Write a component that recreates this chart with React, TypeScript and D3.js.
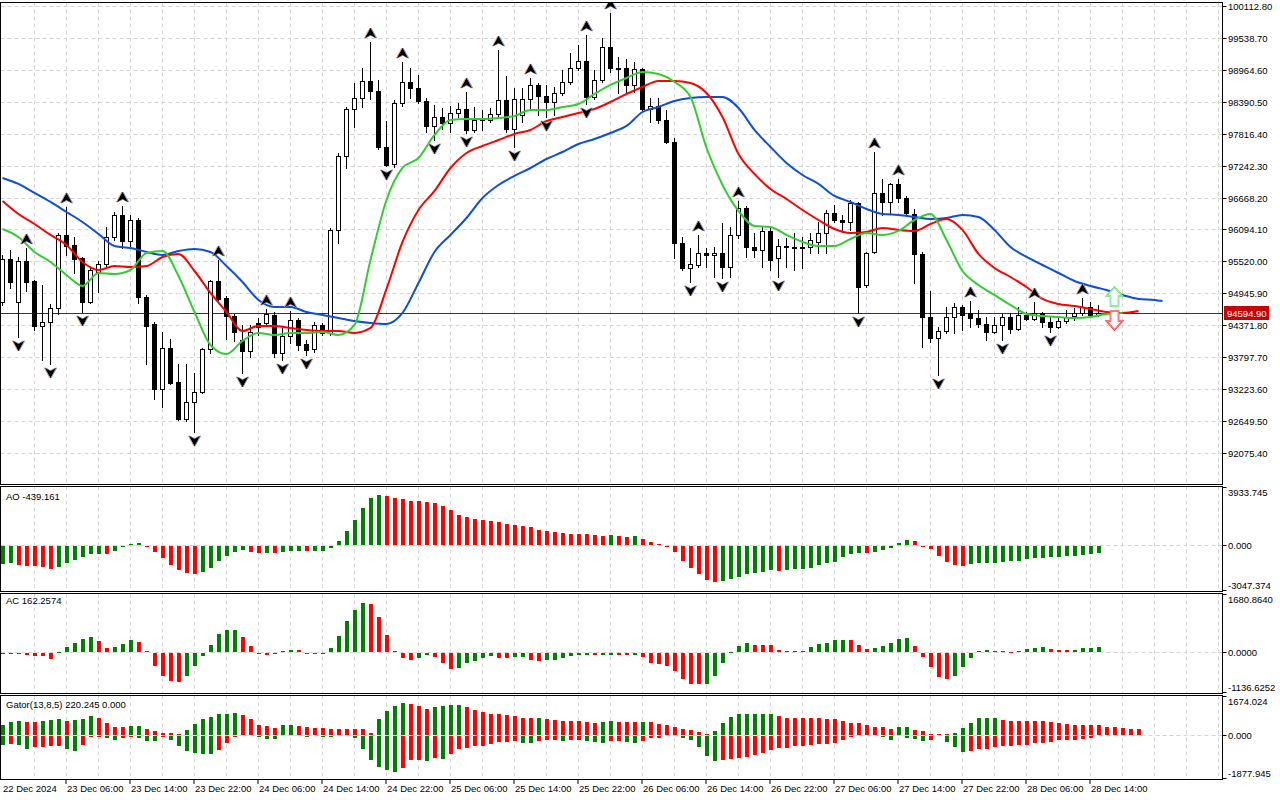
import React, { useEffect, useRef } from 'react';
import * as d3 from 'd3';

// Hourly bars, 22 Dec 22:00 .. 28 Dec 15:00 (bar index 0..137)
const opens = [
  94791, 95564, 94791, 95528, 95169, 94359, 94431, 94683, 95996, 95816,
  95582, 94791, 95330, 95474, 95960, 96355, 95888, 96265, 94881, 94395,
  93227, 93964, 93353, 92687, 92993, 93173, 93946, 95169, 94863, 94539,
  94108, 93910, 94413, 94413, 94557, 93874, 94180, 94467, 94036, 93946,
  94377, 94234, 96086, 97416, 98261, 98459, 98765, 98585, 97578, 97272,
  98369, 98747, 98639, 98405, 97956, 98117, 98009, 98189, 98261, 97884,
  98063, 98063, 98171, 98423, 97902, 98153, 98441, 98693, 98495, 98387,
  98549, 98747, 98998, 99124, 98477, 98782, 99376, 98998, 98998, 98693,
  98980, 98261, 98315, 98063, 97668, 95852, 95402, 95456, 95672, 95636,
  95672, 95420, 95996, 96481, 95780, 95726, 96068, 95582, 95798, 95780,
  95762, 95780, 95870, 96032, 96391, 96265, 96229, 96571, 95097, 95690,
  96751, 96589, 96913, 96661, 96373, 95654, 94521, 94144, 94270, 94521,
  94701, 94593, 94503, 94395, 94252, 94377, 94521, 94306, 94557, 94485,
  94593, 94431, 94341, 94449, 94539, 94593, 94701, 94557,
];
const highs = [
  95636, 95726, 95600, 95762, 95187, 95097, 94755, 96032, 96499, 95960,
  95600, 95402, 95528, 96140, 96409, 96517, 96355, 96301, 94917, 94431,
  94252, 94126, 93676, 93676, 93514, 93964, 95187, 95546, 94899, 94575,
  94377, 94377, 94503, 94665, 94611, 94324, 94629, 94503, 94108, 94431,
  94413, 96122, 97470, 98297, 98729, 98998, 99466, 98783, 98045, 98423,
  99106, 98998, 98872, 98459, 98333, 98279, 98315, 98369, 98567, 98297,
  98243, 98279, 99322, 98854, 98639, 98639, 98819, 98729, 98693, 98657,
  98962, 99268, 99412, 99592, 98962, 99538, 99987, 99196, 99160, 99106,
  98998, 98459, 98459, 98243, 97740, 95960, 95762, 95996, 95762, 95780,
  96211, 96140, 96607, 96517, 96032, 96140, 96140, 95924, 95942, 96032,
  95960, 96032, 96229, 96445, 96535, 96355, 96625, 96589, 95690, 97488,
  97003, 96931, 97003, 96697, 96463, 95690, 94989, 94341, 94701, 94773,
  94737, 94809, 94647, 94521, 94521, 94575, 94593, 94701, 94611, 94791,
  94611, 94521, 94521, 94647, 94683, 94863, 94791, 94737,
];
const lows = [
  94737, 95043, 94162, 94989, 94288, 93748, 93676, 94575, 95636, 95312,
  94611, 94773, 94971, 95420, 95906, 95762, 95762, 94773, 93676, 93047,
  92903, 93317, 92669, 92651, 92454, 93155, 93874, 94827, 94126, 94090,
  93514, 93802, 94198, 94359, 93802, 93748, 94054, 93928, 93838, 93892,
  94198, 94198, 95852, 97200, 97937, 98297, 98441, 97542, 97236, 97218,
  98315, 98459, 98369, 97848, 97704, 97902, 97848, 98117, 97830, 97848,
  97884, 98027, 98117, 97848, 97578, 98027, 98279, 98153, 98117, 98153,
  98513, 98711, 98962, 98351, 98441, 98747, 98926, 98549, 98549, 98567,
  98243, 98027, 98009, 97650, 95582, 95366, 95151, 95420, 95420, 95240,
  95222, 95240, 95942, 95600, 95600, 95420, 95366, 95240, 95420, 95366,
  95402, 95672, 95672, 95672, 96229, 96050, 96086, 94593, 95061, 95672,
  96355, 96391, 96589, 96355, 95133, 93982, 94072, 93478, 94234, 94234,
  94288, 94341, 94341, 94108, 94234, 94108, 94234, 94288, 94467, 94467,
  94341, 94252, 94324, 94413, 94467, 94557, 94521, 94539,
];
const closes = [
  95564, 95151, 95528, 95151, 94359, 94431, 94683, 95996, 95798, 95564,
  94791, 95366, 95474, 95960, 96355, 95888, 96265, 94881, 94359, 93227,
  93964, 93335, 92687, 92993, 93173, 93946, 95169, 94845, 94539, 94252,
  93910, 94252, 94341, 94575, 93874, 94180, 94467, 94018, 93928, 94377,
  94234, 96086, 97416, 98261, 98459, 98765, 98585, 97578, 97254, 98369,
  98747, 98639, 98405, 97956, 98117, 98009, 98189, 98261, 97884, 98063,
  98099, 98171, 98423, 97902, 98441, 98441, 98693, 98495, 98387, 98549,
  98747, 98998, 99124, 98477, 98782, 99376, 98998, 98980, 98693, 98980,
  98261, 98315, 98063, 97668, 95852, 95402, 95474, 95672, 95636, 95672,
  95420, 95996, 96481, 95780, 95726, 96068, 95546, 95798, 95780, 95762,
  95780, 95906, 96032, 96391, 96265, 96229, 96571, 95061, 95672, 96751,
  96589, 96913, 96661, 96391, 95654, 94521, 94144, 94270, 94521, 94701,
  94557, 94503, 94395, 94252, 94377, 94521, 94306, 94557, 94485, 94593,
  94431, 94341, 94449, 94521, 94593, 94701, 94557, 94594.9,
];

// Alligator, read every second bar; jaw runs to bar 145, teeth to 142, lips to 140
const jawValues = [
  97021, 96913, 96751, 96589, 96409, 96229, 96014, 95798, 95762, 95690,
  95636, 95708, 95744, 95690, 95438, 95151, 94827, 94701, 94701, 94611,
  94557, 94503, 94449, 94413, 94395, 94593, 95133, 95690, 95996, 96301,
  96661, 96895, 97057, 97200, 97362, 97488, 97632, 97722, 97830, 97956,
  98207, 98297, 98405, 98459, 98477, 98477, 98279, 97884, 97578, 97290,
  97074, 96913, 96697, 96589, 96463, 96373, 96355, 96319, 96283, 96301,
  96355, 96319, 96086, 95780, 95600, 95456, 95312, 95169, 95079, 95007,
  94917, 94845, 94827, 94809,
];
const teethValues = [
  96607, 96373, 96193, 95996, 95816, 95510, 95366, 95438, 95420, 95438,
  95600, 95654, 95348, 94953, 94611, 94270, 94359, 94359, 94324, 94288,
  94270, 94270, 94234, 94324, 95025, 95870, 96445, 96787, 97200, 97470,
  97596, 97703, 97812, 97884, 98045, 98117, 98189, 98261, 98387, 98531,
  98657, 98765, 98765, 98729, 98549, 98117, 97452, 97093, 96823, 96643,
  96445, 96265, 96104, 96032, 96050, 96122, 96086, 96068, 96193, 96283,
  96086, 95654, 95402, 95240, 95061, 94845, 94755, 94719, 94665, 94611,
  94593, 94629,
];
const lipsValues = [
  96104, 95960, 95690, 95510, 95276, 95079, 95312, 95294, 95366, 95672,
  95708, 95258, 94611, 94018, 93856, 94090, 94234, 94198, 94234, 94234,
  94252, 94198, 94377, 95546, 96625, 97200, 97380, 97794, 98063, 98081,
  98081, 98099, 98135, 98243, 98243, 98297, 98351, 98531, 98693, 98819,
  98926, 98890, 98747, 98477, 97560, 96895, 96427, 96158, 96140, 95996,
  95870, 95798, 95798, 95924, 96032, 95996, 96068, 96265, 96373, 95906,
  95348, 95097, 94917, 94737, 94575, 94539, 94521, 94503, 94521, 94575,
  94593,
];

const fractalUp = [3, 8, 15, 27, 33, 36, 46, 50, 58, 62, 66, 73, 76, 87, 92, 109, 112, 121, 129, 135];
const fractalDown = [2, 6, 10, 24, 30, 35, 38, 48, 54, 58, 64, 68, 73, 86, 90, 97, 107, 117, 125, 131];

const aoValues = [
  -1228, -1182, -1273, -1342, -1342, -1410, -1524, -1387, -1182, -978,
  -773, -530, -520, -528, -364, -91, 68, 136, -23, -432,
  -841, -1273, -1592, -1819, -1887, -1728, -1455, -1023, -705, -432,
  -273, -387, -500, -490, -500, -432, -350, -335, -350, -340,
  -330, -159, 296, 978, 1728, 2479, 3161, 3366, 3297, 3161,
  3093, 2980, 2960, 2940, 2820, 2615, 2342, 2069, 1933, 1796,
  1728, 1600, 1580, 1455, 1387, 1319, 1251, 1046, 978, 900,
  800, 780, 770, 750, 705, 637, 650, 591, 569, 580,
  432, 205, 68, -23, -432, -1000, -1455, -1865, -2297, -2433,
  -2365, -2206, -2092, -1910, -1842, -1728, -1614, -1683, -1614, -1569,
  -1524, -1455, -1296, -1160, -1114, -728, -569, -480, -500, -432,
  -250, -114, 136, 341, 273, -23, -205, -705, -1069, -1296,
  -1342, -1228, -1150, -1140, -1130, -1110, -1046, -1000, -887, -841,
  -796, -750, -710, -700, -659, -614, -523, -439.161,
];
const acValues = [
  -10, -20, -25, -40, -65, -70, -150, 5, 168, 280,
  392, 448, 318, 140, 168, 252, 364, 308, 28, -364,
  -643, -783, -812, -643, -364, -65, 224, 532, 644, 650,
  448, 196, -5, -37, -28, 28, 75, 70, -10, -20,
  -5, 130, 476, 896, 1223, 1428, 1390, 1008, 507, 56,
  -130, -197, -130, -56, -103, -270, -456, -410, -270, -205,
  -130, -84, -120, -140, -110, -90, -200, -210, -190, -178,
  -130, -84, -56, -37, -56, -47, -37, -47, -56, -37,
  -103, -270, -300, -365, -507, -723, -864, -883, -864, -650,
  -270, 10, 197, 282, 226, 220, 215, 84, 28, 37,
  56, 150, 244, 272, 366, 370, 360, 226, 112, 115,
  197, 263, 394, 422, 197, -103, -394, -676, -723, -648,
  -394, -130, 56, 84, 56, 28, 20, 56, 112, 140,
  145, 103, 65, 60, 75, 130, 140, 162.2574,
];
const gatorUpper = [
  397, 539, 596, 539, 539, 596, 639, 667, 596, 639,
  667, 809, 738, 511, 341, 341, 383, 383, 255, 170,
  71, 57, 28, 213, 468, 681, 780, 894, 894, 951,
  851, 667, 426, 355, 284, 426, 426, 355, 326, 284,
  284, 255, 255, 255, 241, 241, 71, 667, 1022, 1249,
  1391, 1348, 1249, 1107, 1206, 1249, 1277, 1277, 1192, 1064,
  965, 894, 880, 851, 809, 709, 709, 738, 667, 639,
  596, 596, 596, 539, 497, 539, 596, 539, 539, 539,
  568, 539, 454, 426, 326, 255, 213, 114, 28, 170,
  525, 752, 894, 894, 894, 894, 894, 823, 709, 709,
  709, 709, 709, 667, 667, 610, 525, 525, 426, 312,
  312, 255, 326, 326, 213, 170, 43, 43, 43, 71,
  284, 497, 709, 709, 709, 639, 610, 610, 610, 610,
  596, 568, 525, 454, 426, 426, 397, 397, 326, 326,
  284, 255, 255,
];
const gatorLower = [
  -426, -383, -426, -568, -497, -497, -454, -454, -596, -667,
  -397, -43, -43, -114, -170, -114, -43, -99, -213, -213,
  -71, -170, -454, -667, -738, -780, -795, -639, -326, -43,
  -28, -28, -71, -142, -142, -28, -28, -28, -71, -28,
  -71, -71, 0, -28, -114, -596, -1064, -1348, -1490, -1561,
  -1391, -1064, -1064, -1107, -965, -1022, -780, -568, -525, -454,
  -454, -383, -284, -284, -241, -326, -326, -213, -170, -170,
  -213, -185, -170, -241, -284, -326, -213, -213, -284, -326,
  -241, -99, -99, -28, 0, -114, -170, -497, -880, -1107,
  -1064, -1022, -965, -922, -823, -738, -639, -539, -539, -468,
  -440, -426, -383, -355, -312, -185, -71, -28, -28, -28,
  -71, -170, -28, -99, -142, -213, -170, 0, -284, -497,
  -709, -667, -596, -568, -497, -468, -454, -426, -397, -326,
  -326, -255, -185, -170, -170, -142, -99, -28, -28, 0,
  0,
];

const priceTicks = [
  100112.8, 99538.7, 98964.6, 98390.5, 97816.4, 97242.3, 96668.2, 96094.1,
  95520.0, 94945.9, 94371.8, 93797.7, 93223.6, 92649.5, 92075.4,
];
const timeLabels = [
  '22 Dec 2024', '23 Dec 06:00', '23 Dec 14:00', '23 Dec 22:00', '24 Dec 06:00', '24 Dec 14:00',
  '24 Dec 22:00', '25 Dec 06:00', '25 Dec 14:00', '25 Dec 22:00', '26 Dec 06:00', '26 Dec 14:00',
  '26 Dec 22:00', '27 Dec 06:00', '27 Dec 14:00', '27 Dec 22:00', '28 Dec 06:00', '28 Dec 14:00',
];
const lastPrice = 94594.9;
// signal arrows after the last bar: [bar, up-arrow tip, down-arrow tip]
const signalArrows = [[139, 95061, 94287]];

const GREEN = '#008000';
const RED = '#ff0000';
const FONT = "'Liberation Sans', Arial, sans-serif";

const risingColors = (v: number[]) => v.map((d, i) => (i === 0 || d > v[i - 1] ? GREEN : RED));
const gatorColors = (v: number[]) => {
  const out: string[] = [];
  v.forEach((d, i) => {
    if (i === 0) { out.push(GREEN); return; }
    const a = Math.abs(d), p = Math.abs(v[i - 1]);
    out.push(a > p ? GREEN : a < p ? RED : out[i - 1]);
  });
  return out;
};

export default function App() {
  const svgRef = useRef<SVGSVGElement>(null);

  useEffect(() => {
    if (!svgRef.current) return;
    const svg = d3.select(svgRef.current);
    svg.selectAll('*').remove();

    const left = 0.5, right = 1222.5;
    const x = d3.scaleLinear().domain([0, 1]).range([2.5, 10.5]);
    const yMain = d3.scaleLinear().domain([92075.4, 100112.8]).range([453, 6]);
    const yAO = d3.scaleLinear().domain([-3047.374, 3933.745]).range([590, 487]);
    const yAC = d3.scaleLinear().domain([-1136.6252, 1680.864]).range([692, 594]);
    const yGt = d3.scaleLinear().domain([-1877.945, 1674.024]).range([778, 696]);

    const panels = [
      { id: 'main', top: 2.5, bottom: 484.5 },
      { id: 'ao', top: 486.5, bottom: 591.5 },
      { id: 'ac', top: 593.5, bottom: 693.5 },
      { id: 'gator', top: 695.5, bottom: 779.5 },
    ];

    svg.append('rect').attr('width', 1280).attr('height', 800).attr('fill', '#fff');
    const defs = svg.append('defs');
    panels.forEach(p => {
      defs.append('clipPath').attr('id', `clip-${p.id}`)
        .append('rect').attr('x', left + 0.5).attr('y', p.top + 0.5)
        .attr('width', right - left - 1).attr('height', p.bottom - p.top - 1);
    });
    const layer = (id: string) => svg.append('g').attr('clip-path', `url(#clip-${id})`);

    // vertical grid (every 4 bars) in all panels
    const gridX = d3.range(4, 160, 4).map(i => x(i)).filter(v => v < right - 1);
    panels.forEach(p => {
      const g = layer(p.id);
      g.selectAll(null).data(gridX).enter().append('line')
        .attr('x1', d => d).attr('x2', d => d).attr('y1', p.top).attr('y2', p.bottom)
        .attr('stroke', '#d4d4d4').attr('stroke-dasharray', '4,3');
    });

    // ---------- main panel ----------
    const main = layer('main');
    main.selectAll(null).data(priceTicks).enter().append('line')
      .attr('x1', left).attr('x2', right)
      .attr('y1', d => Math.round(yMain(d)) + 0.5).attr('y2', d => Math.round(yMain(d)) + 0.5)
      .attr('stroke', '#d4d4d4').attr('stroke-dasharray', '4,3');

    const lastY = Math.round(yMain(lastPrice)) + 0.5;
    main.append('line').attr('x1', left).attr('x2', right).attr('y1', lastY).attr('y2', lastY)
      .attr('stroke', '#b00000').attr('stroke-width', 1);

    const bars = d3.range(opens.length);
    const candles = main.append('g');
    candles.selectAll(null).data(bars).enter().append('line')
      .attr('x1', i => x(i)).attr('x2', i => x(i))
      .attr('y1', i => Math.round(yMain(highs[i]))).attr('y2', i => Math.round(yMain(lows[i])) + 1)
      .attr('stroke', '#000');
    candles.selectAll(null).data(bars).enter().append('rect')
      .attr('x', i => x(i) - 2)
      .attr('y', i => Math.round(yMain(Math.max(opens[i], closes[i]))) + 0.5)
      .attr('width', 4)
      .attr('height', i => Math.max(1, Math.abs(Math.round(yMain(opens[i])) - Math.round(yMain(closes[i])))))
      .attr('fill', i => (closes[i] > opens[i] ? '#fff' : '#000'))
      .attr('stroke', '#000');

    const drawLine = (vals: number[], idx: number[], color: string) => {
      const line = d3.line<number>().x((_, k) => x(idx[k])).y(d => yMain(d)).curve(d3.curveMonotoneX);
      main.append('path').attr('d', line(vals) as string).attr('fill', 'none')
        .attr('stroke', color).attr('stroke-width', 2).attr('stroke-linejoin', 'round');
    };
    drawLine(jawValues, d3.range(0, 145, 2).concat([145]), '#0d4fd6');
    drawLine(teethValues, d3.range(0, 143, 2), '#ff0000');
    drawLine(lipsValues, d3.range(0, 141, 2), '#32cd32');

    // Bill Williams fractal arrowheads
    const upGlyph = 'M0,-5 L5.5,5 L0,2 L-5.5,5 Z';
    const downGlyph = 'M0,5 L5.5,-5 L0,-2 L-5.5,-5 Z';
    const glyph = (data: number[], d: string, yOf: (i: number) => number) => {
      const g = main.append('g');
      g.selectAll(null).data(data).enter().append('path')
        .attr('d', d).attr('transform', i => `translate(${x(i) - 0.6},${yOf(i)})`)
        .attr('fill', 'none').attr('stroke', '#d9a060').attr('stroke-width', 1);
      g.selectAll(null).data(data).enter().append('path')
        .attr('d', d).attr('transform', i => `translate(${x(i) + 0.6},${yOf(i)})`)
        .attr('fill', 'none').attr('stroke', '#7890e0').attr('stroke-width', 1);
      g.selectAll(null).data(data).enter().append('path')
        .attr('d', d).attr('transform', i => `translate(${x(i)},${yOf(i)})`)
        .attr('fill', '#000');
    };
    glyph(fractalUp, upGlyph, i => yMain(highs[i]) - 9);
    glyph(fractalDown, downGlyph, i => yMain(lows[i]) + 9);

    signalArrows.forEach(([bar, upTip, downTip]) => {
      const cx = x(bar), ut = yMain(upTip), dt = yMain(downTip);
      const up = `M${cx},${ut} L${cx + 8},${ut + 9} L${cx + 4},${ut + 9} L${cx + 4},${ut + 19} L${cx - 4},${ut + 19} L${cx - 4},${ut + 9} L${cx - 8},${ut + 9} Z`;
      const dn = `M${cx},${dt} L${cx + 8},${dt - 9} L${cx + 4},${dt - 9} L${cx + 4},${dt - 19} L${cx - 4},${dt - 19} L${cx - 4},${dt - 9} L${cx - 8},${dt - 9} Z`;
      main.append('path').attr('d', up).attr('fill', '#fff').attr('stroke', '#5ad65a').attr('stroke-width', 1.6);
      main.append('path').attr('d', up).attr('fill', 'none').attr('stroke', '#c8f5f0').attr('stroke-width', 0.6);
      main.append('path').attr('d', dn).attr('fill', '#fff').attr('stroke', '#ff2020').attr('stroke-width', 1.6);
      main.append('path').attr('d', dn).attr('fill', 'none').attr('stroke', '#ffc0c8').attr('stroke-width', 0.6);
    });

    // ---------- indicator panels ----------
    const hist = (id: string, vals: number[], y: d3.ScaleLinear<number, number>, colors: string[], minH: number) => {
      const g = layer(id);
      const y0 = Math.round(y(0));
      g.append('line').attr('x1', left).attr('x2', right).attr('y1', y0 + 0.5).attr('y2', y0 + 0.5)
        .attr('stroke', '#d4d4d4').attr('stroke-dasharray', '4,3');
      g.selectAll(null).data(vals).enter().append('rect')
        .attr('x', (_, i) => Math.round(x(i) - 2))
        .attr('y', d => (d >= 0 ? Math.round(y(d)) : y0 + 1))
        .attr('width', 4)
        .attr('height', d => {
          const h = Math.abs(Math.round(y(d)) - y0);
          return d === 0 ? 0 : Math.max(minH, h);
        })
        .attr('fill', (_, i) => colors[i]);
      return g;
    };
    hist('ao', aoValues, yAO, risingColors(aoValues), 1);
    hist('ac', acValues, yAC, risingColors(acValues), 1);
    const gg = hist('gator', gatorUpper, yGt, gatorColors(gatorUpper), 0);
    const y0g = Math.round(yGt(0));
    const lowerColors = gatorColors(gatorLower);
    gg.selectAll(null).data(gatorLower).enter().append('rect')
      .attr('x', (_, i) => Math.round(x(i) - 2))
      .attr('y', y0g + 1)
      .attr('width', 4)
      .attr('height', d => Math.abs(Math.round(yGt(d)) - y0g))
      .attr('fill', (_, i) => lowerColors[i]);

    // ---------- frames ----------
    panels.forEach(p => {
      svg.append('rect').attr('x', left).attr('y', p.top).attr('width', right - left)
        .attr('height', p.bottom - p.top).attr('fill', 'none').attr('stroke', '#000');
    });

    const text = (tx: number, ty: number, s: string, fill = '#000') =>
      svg.append('text').attr('x', tx).attr('y', ty).text(s)
        .attr('font-family', FONT).attr('font-size', 9.5).attr('fill', fill);

    // price axis
    priceTicks.forEach(p => {
      const ty = Math.round(yMain(p)) + 0.5;
      svg.append('line').attr('x1', right).attr('x2', right + 4).attr('y1', ty).attr('y2', ty).attr('stroke', '#000');
      text(1228, ty + 3.5, p.toFixed(2));
    });
    svg.append('rect').attr('x', 1224).attr('y', lastY - 7.5).attr('width', 45).attr('height', 14).attr('fill', '#cc0000');
    text(1227, lastY + 3.5, lastPrice.toFixed(2), '#fff');

    // indicator axes
    const indAxis = (y: d3.ScaleLinear<number, number>, digits: number) => {
      const [lo, hi] = y.domain();
      const yt = Math.round(y(hi)) + 0.5, yz = Math.round(y(0)) + 0.5, yb = Math.round(y(lo)) + 0.5;
      [yt, yz, yb].forEach(v => svg.append('line').attr('x1', right).attr('x2', right + 4).attr('y1', v).attr('y2', v).attr('stroke', '#000'));
      text(1228, yt + 8, hi.toFixed(digits));
      text(1228, yz + 3.5, (0).toFixed(digits));
      text(1228, yb - 2, lo.toFixed(digits));
    };
    indAxis(yAO, 3);
    indAxis(yAC, 4);
    indAxis(yGt, 3);

    text(6, 500, `AO ${aoValues[aoValues.length - 1].toFixed(3)}`);
    text(6, 604, `AC ${acValues[acValues.length - 1].toFixed(4)}`);
    text(6, 708, 'Gator(13,8,5) 220.245 0.000');

    // time axis
    timeLabels.forEach((s, k) => {
      const tx = k === 0 ? 2 : x(k * 8) - 0.5;
      if (k > 0) svg.append('line').attr('x1', tx).attr('x2', tx).attr('y1', 779.5).attr('y2', 784).attr('stroke', '#000');
      text(k === 0 ? 3 : tx + 1, 792, s);
    });
  }, []);

  return (
    <svg ref={svgRef} width={1280} height={800}
      style={{ position: 'absolute', left: 0, top: 0, display: 'block' }} />
  );
}
